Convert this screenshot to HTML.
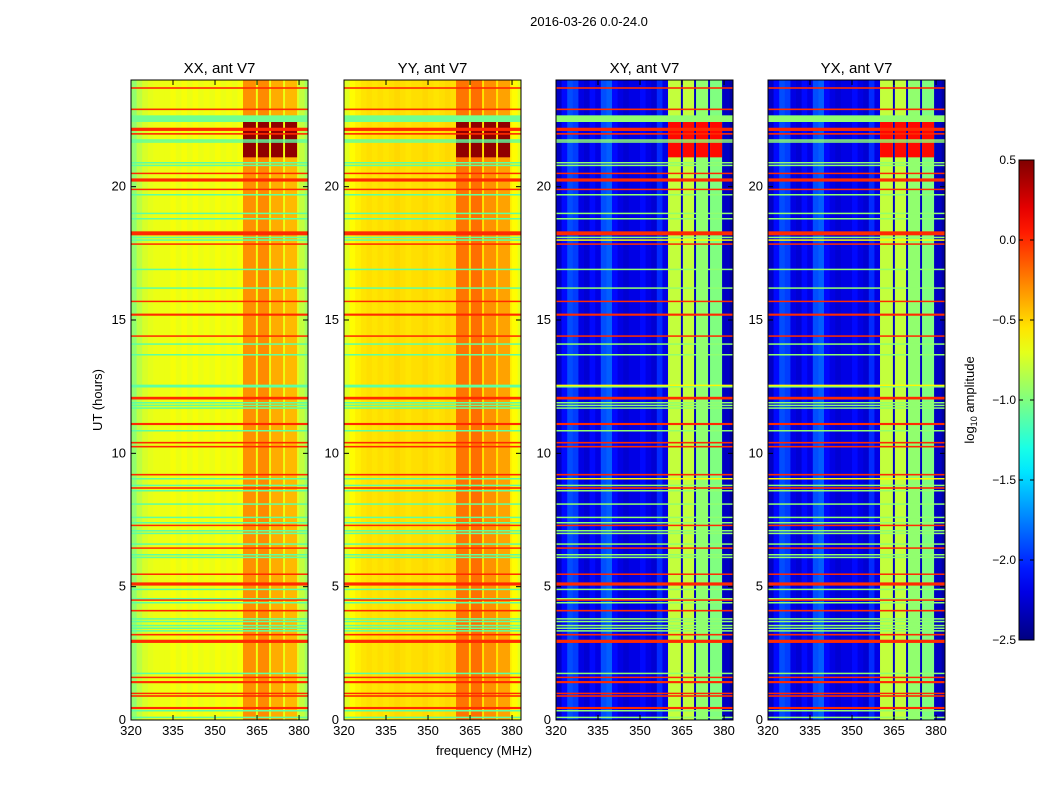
<!DOCTYPE html>
<html><head><meta charset="utf-8"><style>
body{margin:0;background:#fff;}
svg text{font-family:"Liberation Sans",sans-serif;fill:#000;}
</style></head><body>
<svg id="fig" width="1050" height="800" xmlns="http://www.w3.org/2000/svg">
<text x="589" y="26" font-size="13" text-anchor="middle">2016-03-26 0.0-24.0</text>
<text x="484" y="755" font-size="13" text-anchor="middle">frequency (MHz)</text>
<text transform="translate(102,400) rotate(-90)" font-size="13" text-anchor="middle">UT (hours)</text>
<text transform="translate(974,400) rotate(-90)" font-size="13" text-anchor="middle">log<tspan font-size="9" dy="3">10</tspan><tspan dy="-3"> amplitude</tspan></text>
</svg>
<script>
// ---- data ----
const panelTitles=["XX, ant V7","YY, ant V7","XY, ant V7","YX, ant V7"];
const freqBins=[320,322,324,326,328,330,332,334,336,338,340,342,344,346,348,350,352,354,356,358,360,362,364,366,368,370,372,374,376,378,380,382];
const baseXX=[-0.95,-0.82,-0.74,-0.7,-0.68,-0.68,-0.68,-0.65,-0.68,-0.65,-0.68,-0.65,-0.68,-0.66,-0.68,-0.65,-0.68,-0.66,-0.68,-0.65,-0.68,-0.68,-0.68,-0.68,-0.68,-0.68,-0.68,-0.68,-0.68,-0.72,-0.8,-0.9];
const baseYY=[-0.72,-0.62,-0.58,-0.55,-0.53,-0.55,-0.53,-0.55,-0.53,-0.51,-0.53,-0.55,-0.53,-0.53,-0.51,-0.53,-0.55,-0.53,-0.51,-0.53,-0.55,-0.55,-0.55,-0.55,-0.55,-0.55,-0.55,-0.55,-0.55,-0.58,-0.62,-0.7];
const baseXY=[-2.3,-2.1,-1.9,-1.95,-2.2,-2.25,-2.1,-2.2,-1.9,-1.85,-2.1,-2.2,-2.25,-2.2,-2.2,-2.1,-2.2,-2.25,-2.0,-2.2,-2.3,-2.3,-2.3,-2.3,-2.3,-2.3,-2.3,-2.3,-2.3,-2.3,-2.3,-2.4];
const baseYX=[-2.3,-2.1,-1.9,-1.95,-2.2,-2.25,-2.1,-2.2,-1.9,-1.85,-2.1,-2.2,-2.25,-2.2,-2.2,-2.1,-2.2,-2.25,-2.0,-2.2,-2.3,-2.3,-2.3,-2.3,-2.3,-2.3,-2.3,-2.3,-2.3,-2.3,-2.3,-2.4];
const stripeStart=[360,365.3,370,375];
const stripeEnd=[364.6,369.3,374.3,379.3];
const stripeXX=[-0.3,-0.28,-0.38,-0.42];
const stripeYY=[-0.22,-0.2,-0.3,-0.35];
const stripeXY=[-0.8,-0.8,-0.95,-1.0];
const stripeYX=[-0.8,-0.8,-0.95,-1.0];
const rfiHours=[23.7,22.9,22.55,22.15,21.98,21.75,21.68,20.9,20.8,20.5,20.25,19.9,19.7,19.0,18.8,18.25,18.1,18.0,17.85,16.9,16.2,15.7,15.2,14.4,14.1,13.7,12.55,12.5,12.07,11.9,11.8,11.7,11.1,10.85,10.4,10.25,9.2,9.05,8.8,8.7,8.6,8.1,7.6,7.4,7.3,7.1,7.0,6.6,6.45,6.2,6.1,5.47,5.1,4.9,4.55,4.5,4.4,4.1,3.8,3.7,3.55,3.45,3.35,3.2,2.95,1.75,1.6,1.42,1.0,0.9,0.45,0.35,0.1];
const rfiSpan=[0.06,0.06,0.25,0.12,0.06,0.05,0.05,0.05,0.05,0.05,0.12,0.05,0.05,0.05,0.05,0.15,0.05,0.05,0.05,0.05,0.05,0.05,0.08,0.05,0.05,0.05,0.05,0.05,0.1,0.05,0.05,0.05,0.08,0.05,0.06,0.06,0.06,0.05,0.05,0.06,0.05,0.05,0.05,0.05,0.05,0.05,0.05,0.05,0.05,0.05,0.05,0.05,0.12,0.05,0.05,0.05,0.05,0.06,0.04,0.04,0.04,0.04,0.04,0.06,0.12,0.05,0.05,0.08,0.05,0.06,0.08,0.05,0.05];
const rfiCo=[0.0,0.0,-1.05,0.0,0.0,-1.1,-1.1,-1.1,-1.1,0.0,0.0,0.0,-1.1,-1.1,-1.1,0.0,-1.1,-1.1,0.0,-1.1,-1.1,0.0,0.0,0.0,-1.1,-1.1,-1.1,-1.1,0.0,-1.1,-1.1,-1.1,0.0,-1.1,0.0,0.0,0.0,-1.1,-1.1,0.0,-1.1,-1.1,-1.1,-1.1,0.0,-1.1,-1.1,-1.1,0.0,-1.1,-1.1,0.0,0.0,-1.1,-1.1,0.0,-1.1,0.0,-1.1,-1.1,-1.1,-1.1,-1.1,0.0,0.0,-1.1,0.0,0.0,0.0,0.0,0.0,-1.1,-1.1];
const rfiCross=[0.0,0.0,-0.95,0.0,0.0,-0.95,-0.95,-0.95,-0.95,0.0,0.0,0.0,-0.95,-0.95,-0.95,0.0,-0.95,-0.6,0.0,-0.95,-0.95,0.0,0.0,0.0,-0.95,-0.95,-0.6,-0.95,0.0,-0.95,-0.95,-0.95,0.0,-0.95,0.0,0.0,0.0,-0.6,-0.95,0.0,-0.95,-0.95,-0.95,-0.95,0.0,-0.95,-0.95,-0.95,0.0,-0.95,-0.95,0.0,0.0,-0.95,-0.95,0.0,-0.95,0.0,-0.95,-0.95,-0.95,-0.95,-0.95,0.0,0.0,-0.95,0.0,0.0,0.0,0.0,0.0,-0.95,-0.95];
const eventStart=[21.1], eventEnd=[22.45];
const eventCo=[0.45], eventCross=[0.1];
const xTicks=[320,335,350,365,380];
const yTicks=[0,5,10,15,20];
const cbTicks=[0.5,0.0,-0.5,-1.0,-1.5,-2.0,-2.5];
// ---- layout ----
const panelX=[131,344,556,768], PW=177, PT=80, PB=720;
const F0=320,F1=383.2,T0=0,T1=24,VMIN=-2.5,VMAX=0.5;
const NS="http://www.w3.org/2000/svg";
const svg=document.getElementById('fig');
function jet(v){let t=(v-VMIN)/(VMAX-VMIN);t=Math.max(0,Math.min(1,t));
 const c=x=>Math.round(255*Math.max(0,Math.min(1,x)));
 return `rgb(${c(1.5-Math.abs(4*t-3))},${c(1.5-Math.abs(4*t-2))},${c(1.5-Math.abs(4*t-1))})`;}
function el(tag,attrs,parent){const e=document.createElementNS(NS,tag);for(const k in attrs)e.setAttribute(k,attrs[k]);(parent||svg).appendChild(e);return e;}
const bases=[baseXX,baseYY,baseXY,baseYX];
const stripes=[stripeXX,stripeYY,stripeXY,stripeYX];
const neg=v=>v<0?'\u2212'+Math.abs(v).toFixed(1):v.toFixed(1);
for(let p=0;p<4;p++){
 const x0=panelX[p];
 const sx=f=>x0+(f-F0)/(F1-F0)*PW;
 const sy=t=>PB-(t-T0)/(T1-T0)*(PB-PT);
 const g=el('g',{});
 
 
 const cp=el('clipPath',{id:'cp'+p},g);el('rect',{x:x0,y:PT,width:PW,height:PB-PT},cp);
 const inner=el('g',{'clip-path':'url(#cp'+p+')'},g);
 const base=bases[p];
 for(let i=0;i<freqBins.length;i++){
  const r=el('rect',{x:sx(freqBins[i]),y:PT,width:sx(freqBins[i]+2)-sx(freqBins[i])+0.5,height:PB-PT,fill:jet(base[i])},inner);
  
  
 }
 const sv=stripes[p];
 for(let i=0;i<stripeStart.length;i++){
  const r=el('rect',{x:sx(stripeStart[i]),y:PT,width:sx(stripeEnd[i])-sx(stripeStart[i]),height:PB-PT,fill:jet(sv[i])},inner);
  
  
 }
 const ev=p<2?eventCo:eventCross;
 for(let i=0;i<eventStart.length;i++){
  for(let s=0;s<stripeStart.length;s++){
   const r=el('rect',{x:sx(stripeStart[s]),y:sy(eventEnd[i]),width:sx(stripeEnd[s])-sx(stripeStart[s]),height:sy(eventStart[i])-sy(eventEnd[i]),fill:jet(ev[i])},inner);
   
   
  }
 }
 const rows=p<2?rfiCo:rfiCross;
 for(let i=0;i<rfiHours.length;i++){
  const y1=sy(rfiHours[i]+rfiSpan[i]/2),y2=sy(rfiHours[i]-rfiSpan[i]/2);
  const r=el('rect',{x:x0,y:y1,width:PW,height:Math.max(1.5,y2-y1),fill:jet(rows[i])},inner);
  
  
 }
 el('rect',{x:x0,y:PT,width:PW,height:PB-PT,fill:'none',stroke:'#000','stroke-width':1},g);
 const tt=el('text',{x:x0+PW/2,y:PT-7,'font-size':15,'text-anchor':'middle'},g);tt.textContent=panelTitles[p];
 
 
 xTicks.forEach(f=>{const x=sx(f);el('line',{x1:x,x2:x,y1:PB,y2:PB-5,stroke:'#000'},g);el('line',{x1:x,x2:x,y1:PT,y2:PT+5,stroke:'#000'},g);
  const t=el('text',{x:x,y:PB+15,'font-size':13,'text-anchor':'middle'},g);t.textContent=f;
  
  });
 yTicks.forEach(v=>{const y=sy(v);el('line',{x1:x0,x2:x0+5,y1:y,y2:y,stroke:'#000'},g);el('line',{x1:x0+PW,x2:x0+PW-5,y1:y,y2:y,stroke:'#000'},g);
  const t=el('text',{x:x0-5,y:y+4,'font-size':13,'text-anchor':'end'},g);t.textContent=v;
  
  });
}
// colorbar
const CX=1019,CW=15,CT=160,CB=640;
const cb=el('g',{});


const grad=el('linearGradient',{id:'jetg',x1:0,y1:1,x2:0,y2:0},cb);
for(let i=0;i<=20;i++){el('stop',{offset:i/20,'stop-color':jet(VMIN+(VMAX-VMIN)*i/20)},grad);}
el('rect',{x:CX,y:CT,width:CW,height:CB-CT,fill:'url(#jetg)',stroke:'#000'},cb);
const cy=v=>CB-(v-VMIN)/(VMAX-VMIN)*(CB-CT);
cbTicks.forEach(v=>{const y=cy(v);el('line',{x1:CX+CW-4,x2:CX+CW,y1:y,y2:y,stroke:'#000'},cb);el('line',{x1:CX,x2:CX+4,y1:y,y2:y,stroke:'#000'},cb);
 const t=el('text',{x:CX-3,y:y+4,'font-size':12,'text-anchor':'end'},cb);t.textContent=neg(v);
 
 });
</script>
</body></html>
